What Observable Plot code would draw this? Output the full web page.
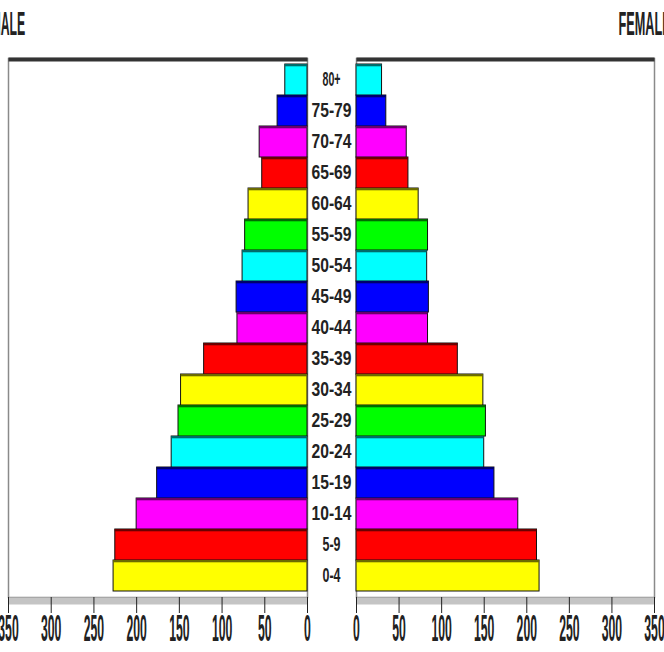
<!DOCTYPE html>
<html>
<head>
<meta charset="utf-8">
<script src="https://cdn.jsdelivr.net/npm/d3@7"></script>
<script src="https://cdn.jsdelivr.net/npm/@observablehq/plot@0.6"></script>
<style>
  html, body { margin: 0; padding: 0; background: #fff; width: 664px; height: 652px; overflow: hidden; }
  #wrap { position: relative; width: 664px; height: 652px; }
  #left, #right { position: absolute; top: 0; }
  #left { left: 0; }
  #right { left: 355px; }
  svg { overflow: visible; }
</style>
</head>
<body>
<div id="wrap"><div id="left"></div><div id="right"></div></div>
<script>
// ---- data ----
const ages = ["0-4","5-9","10-14","15-19","20-24","25-29","30-34","35-39","40-44","45-49","50-54","55-59","60-64","65-69","70-74","75-79","80+"];
const male = [227,225,200,176,159,151,148,121,82,83,76,73,69,53,56,35,26];
const female = [215,212,190,162,150,152,149,119,84,85,83,84,73,61,59,35,30];
const palette = ["#ffff00","#ff0000","#ff00ff","#0000ff","#00ffff","#00ff00"];
const paletteDark = ["#6b6b00","#6b0000","#6b006b","#00006b","#006b6b","#006b00"];
const xTicks = [0,50,100,150,200,250,300,350];
const leftTitle = "MALE";
const rightTitle = "FEMALE";

const H = 652, MT = 58, MB = 55;
const innerH = H - MT - MB;
const bw = innerH / ages.length;
const yDomain = ages.slice().reverse();

const maleRows = ages.map((a, i) => ({age: a, value: male[i], color: palette[i % 6], dark: paletteDark[i % 6]}));
const femaleRows = ages.map((a, i) => ({age: a, value: female[i], color: palette[i % 6], dark: paletteDark[i % 6]}));

function panel(rows, side) {
  const isLeft = side === "left";
  const marks = [
    Plot.frame({stroke: "#8a8a8a", strokeWidth: 1.5}),
    Plot.frame({fill: "#c4c4c4", insetTop: innerH, insetBottom: -7}),
    Plot.frame({fill: "#333", insetBottom: innerH - 3, insetTop: -1}),
    Plot.barX(rows, {x: "value", y: "age", fill: "color", stroke: "#111", strokeWidth: 1}),
    Plot.barX(rows, {x: "value", y: "age", fill: "dark", insetBottom: bw - 3}),
    Plot.axisX({ticks: xTicks, tickSize: 16, tickPadding: 2, fontSize: 36, fontWeight: "bold", fill: "#222", stroke: "#222", tickFormat: d => String(d), label: null})
  ];
  if (isLeft) {
    marks.push(Plot.text(rows, {x: () => 0, y: "age", text: "age", dx: 24, textAnchor: "middle", fontSize: 20, fontWeight: "bold", fill: "#222"}));
    marks.push(Plot.text([leftTitle], {frameAnchor: "top-left", dx: -18, dy: -48, textAnchor: "start", fontSize: 34, fontWeight: "bold", fill: "#222"}));
  } else {
    marks.push(Plot.text([rightTitle], {frameAnchor: "top-left", dx: 262, dy: -48, textAnchor: "start", fontSize: 34, fontWeight: "bold", fill: "#222"}));
  }
  return Plot.plot({
    width: isLeft ? 356 : 309,
    height: H,
    marginTop: MT,
    marginBottom: MB,
    marginLeft: isLeft ? 8 : 1,
    marginRight: isLeft ? 49 : 10,
    style: {fontFamily: "Liberation Sans Narrow, Liberation Sans, sans-serif", background: "transparent", overflow: "visible"},
    x: {domain: [0, 350], reverse: isLeft, axis: null},
    y: {domain: yDomain, padding: 0, axis: null},
    marks
  });
}

const leftSvg = panel(maleRows, "left");
const rightSvg = panel(femaleRows, "right");
document.getElementById("left").appendChild(leftSvg);
document.getElementById("right").appendChild(rightSvg);

function squeeze(svg) {
  d3.select(svg).selectAll("text").each(function() {
    const t = this.textContent.trim();
    const sel = d3.select(this);
    if (/^\d+$/.test(t)) {
      sel.style("font-size", "36px").style("font-weight", "bold")
         .attr("textLength", t.length * 6.8).attr("lengthAdjust", "spacingAndGlyphs");
    } else if (ages.includes(t)) {
      sel.attr("textLength", t.length >= 5 ? 40 : 18).attr("lengthAdjust", "spacingAndGlyphs");
    } else if (t === leftTitle || t === rightTitle) {
      sel.attr("textLength", t.length * 8.7).attr("lengthAdjust", "spacingAndGlyphs");
    }
  });
}
squeeze(leftSvg);
squeeze(rightSvg);
</script>
</body>
</html>
